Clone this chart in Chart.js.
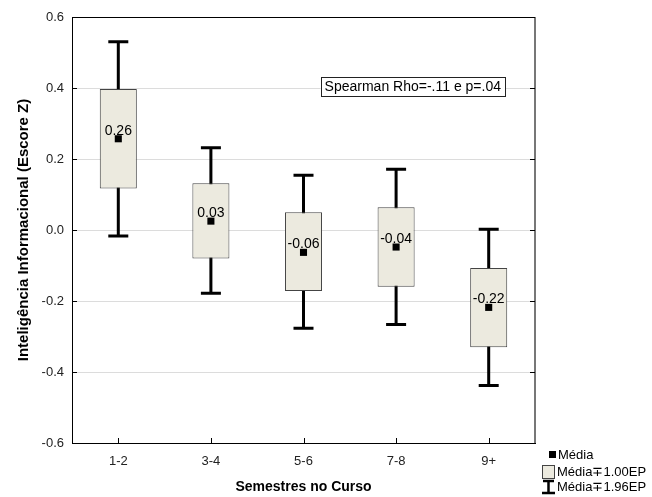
<!DOCTYPE html>
<html>
<head>
<meta charset="utf-8">
<script src="https://cdn.jsdelivr.net/npm/chart.js@4.4.1/dist/chart.umd.min.js"></script>
<style>
  html, body { margin: 0; padding: 0; background: #fff; }
  #wrap { width: 652px; height: 497px; }
</style>
</head>
<body>
<div id="wrap"><canvas id="semChart"></canvas></div>
<script>
// semestres no curso
const categories = ['1-2', '3-4', '5-6', '7-8', '9+'];
// media (escore Z)
const means = [0.257, 0.025, -0.063, -0.048, -0.218];
// media -/+ 1.00 EP
const boxLow = [0.117, -0.080, -0.172, -0.160, -0.330];
const boxHigh = [0.397, 0.132, 0.050, 0.064, -0.107];
// media -/+ 1.96 EP
const whiskLow = [-0.017, -0.178, -0.277, -0.266, -0.438];
const whiskHigh = [0.530, 0.232, 0.154, 0.171, 0.002];
const meanLabels = ['0.26', '0.03', '-0.06', '-0.04', '-0.22'];
const yTicks = [-0.6, -0.4, -0.2, 0.0, 0.2, 0.4, 0.6];

const fontFam = "'Liberation Sans', Arial, sans-serif";

const boxPlotExtras = {
    id: 'boxPlotExtras',
    beforeDatasetsDraw(chart) {
        const ctx = chart.ctx;
        const x = chart.scales.x, y = chart.scales.y;
        ctx.save();
        ctx.strokeStyle = '#000';
        ctx.lineWidth = 3;
        ctx.lineCap = 'butt';
        categories.forEach(function (c, i) {
            const px = x.getPixelForValue(i);
            const yTop = y.getPixelForValue(whiskHigh[i]);
            const yBot = y.getPixelForValue(whiskLow[i]);
            ctx.beginPath();
            ctx.moveTo(px, yTop);
            ctx.lineTo(px, yBot);
            ctx.moveTo(px - 10, yTop);
            ctx.lineTo(px + 10, yTop);
            ctx.moveTo(px - 10, yBot);
            ctx.lineTo(px + 10, yBot);
            ctx.stroke();
        });
        ctx.restore();
    },
    afterDatasetsDraw(chart) {
        const ctx = chart.ctx;
        const x = chart.scales.x, y = chart.scales.y;
        const area = chart.chartArea;
        ctx.save();
        // value labels
        ctx.fillStyle = '#000';
        ctx.font = '14px ' + fontFam;
        ctx.textAlign = 'center';
        ctx.textBaseline = 'middle';
        categories.forEach(function (c, i) {
            ctx.fillText(meanLabels[i], x.getPixelForValue(i), y.getPixelForValue(means[i]) - 8);
        });

        // frame + inner ticks
        ctx.strokeStyle = '#000';
        ctx.lineWidth = 1;
        ctx.beginPath();
        ctx.moveTo(area.left, area.top + 0.5);
        ctx.lineTo(area.right, area.top + 0.5);
        ctx.stroke();
        ctx.strokeStyle = '#777';
        ctx.lineWidth = 2;
        ctx.beginPath();
        ctx.moveTo(area.right, area.top);
        ctx.lineTo(area.right, area.bottom);
        ctx.stroke();
        ctx.strokeStyle = '#000';
        ctx.lineWidth = 1;
        ctx.beginPath();
        yTicks.forEach(function (v) {
            const py = Math.round(y.getPixelForValue(v)) + 0.5;
            ctx.moveTo(area.left, py);
            ctx.lineTo(area.left + 5, py);
            ctx.moveTo(area.right - 5, py);
            ctx.lineTo(area.right, py);
        });
        categories.forEach(function (c, i) {
            const px = Math.round(x.getPixelForValue(i)) + 0.5;
            ctx.moveTo(px, area.bottom);
            ctx.lineTo(px, area.bottom - 5);
        });
        ctx.stroke();

        // spearman annotation
        const note = 'Spearman Rho=-.11 e p=.04';
        ctx.font = '14px ' + fontFam;
        const tw = ctx.measureText(note).width;
        const bx = area.right - 30 - tw - 8;
        const by = area.top + 60;
        ctx.fillStyle = '#fff';
        ctx.fillRect(bx, by, tw + 8, 19);
        ctx.strokeStyle = '#222';
        ctx.strokeRect(Math.round(bx) + 0.5, by + 0.5, Math.round(tw + 8), 19);
        ctx.fillStyle = '#000';
        ctx.textAlign = 'left';
        ctx.fillText(note, bx + 4, by + 10);
        ctx.restore();
    },
    afterDraw(chart) {
        // legend at bottom right
        const ctx = chart.ctx;
        const lx = chart.chartArea.right + 6;
        ctx.save();
        ctx.font = '13px ' + fontFam;
        ctx.textAlign = 'left';
        ctx.textBaseline = 'middle';
        ctx.fillStyle = '#000';
        ctx.fillRect(lx + 8, 451, 7, 7);
        ctx.fillText('Média', lx + 17, 455);
        ctx.fillStyle = '#ECEADF';
        ctx.fillRect(lx + 1.5, 465.5, 12, 13);
        ctx.strokeStyle = '#444';
        ctx.lineWidth = 1;
        ctx.strokeRect(lx + 1.5, 465.5, 12, 13);
        ctx.fillStyle = '#000';
        ctx.fillText('Média\u22131.00EP', lx + 16, 472);
        ctx.strokeStyle = '#000';
        ctx.lineWidth = 2.5;
        ctx.beginPath();
        ctx.moveTo(lx + 7.5, 481);
        ctx.lineTo(lx + 7.5, 493);
        ctx.moveTo(lx + 2, 481);
        ctx.lineTo(lx + 13, 481);
        ctx.moveTo(lx + 1, 493);
        ctx.lineTo(lx + 14, 493);
        ctx.stroke();
        ctx.fillText('Média\u22131.96EP', lx + 16, 487);
        ctx.restore();
    }
};

new Chart(document.getElementById('semChart'), {
    type: 'bar',
    data: {
        labels: categories,
        datasets: [{
            type: 'line',
            label: 'Média',
            data: means,
            showLine: false,
            pointStyle: 'rect',
            pointRadius: 5,
            pointHoverRadius: 5,
            pointBackgroundColor: '#000',
            pointBorderColor: '#000',
            pointBorderWidth: 0,
            order: 0
        }, {
            label: 'Média\u22131.00EP',
            data: boxLow.map(function (l, i) { return [l, boxHigh[i]]; }),
            backgroundColor: '#ECEADF',
            borderColor: '#444',
            borderWidth: 1,
            borderSkipped: false,
            barPercentage: 0.4,
            categoryPercentage: 1,
            order: 1
        }]
    },
    options: {
        responsive: true,
        maintainAspectRatio: false,
        animation: false,
        layout: { padding: { top: 17, right: 117, left: 0, bottom: 0 } },
        plugins: {
            legend: { display: false },
            tooltip: { enabled: false }
        },
        scales: {
            x: {
                grid: { display: false, drawTicks: false },
                border: { display: true, color: '#000', width: 1 },
                ticks: { color: '#222', padding: 11, font: { family: fontFam, size: 13 } },
                title: {
                    display: true,
                    text: 'Semestres no Curso',
                    color: '#000',
                    padding: { top: 0, bottom: 1 },
                    font: { family: fontFam, size: 14, weight: 'bold' }
                },
                afterFit: function (scale) { scale.height = 54; }
            },
            y: {
                min: -0.6,
                max: 0.6,
                grid: { color: '#dcdcdc', drawTicks: false },
                border: { display: true, color: '#000', width: 1 },
                ticks: {
                    stepSize: 0.2,
                    padding: 8,
                    color: '#222',
                    font: { family: fontFam, size: 13 },
                    callback: function (v) { return Math.abs(v) < 1e-9 ? '0.0' : v.toFixed(1); }
                },
                title: {
                    display: true,
                    text: 'Inteligência Informacional (Escore Z)',
                    color: '#000',
                    padding: { top: 15, bottom: 0 },
                    font: { family: fontFam, size: 15, weight: 'bold' }
                },
                afterFit: function (scale) { scale.width = 72; }
            }
        }
    },
    plugins: [boxPlotExtras]
});
</script>
</body>
</html>
